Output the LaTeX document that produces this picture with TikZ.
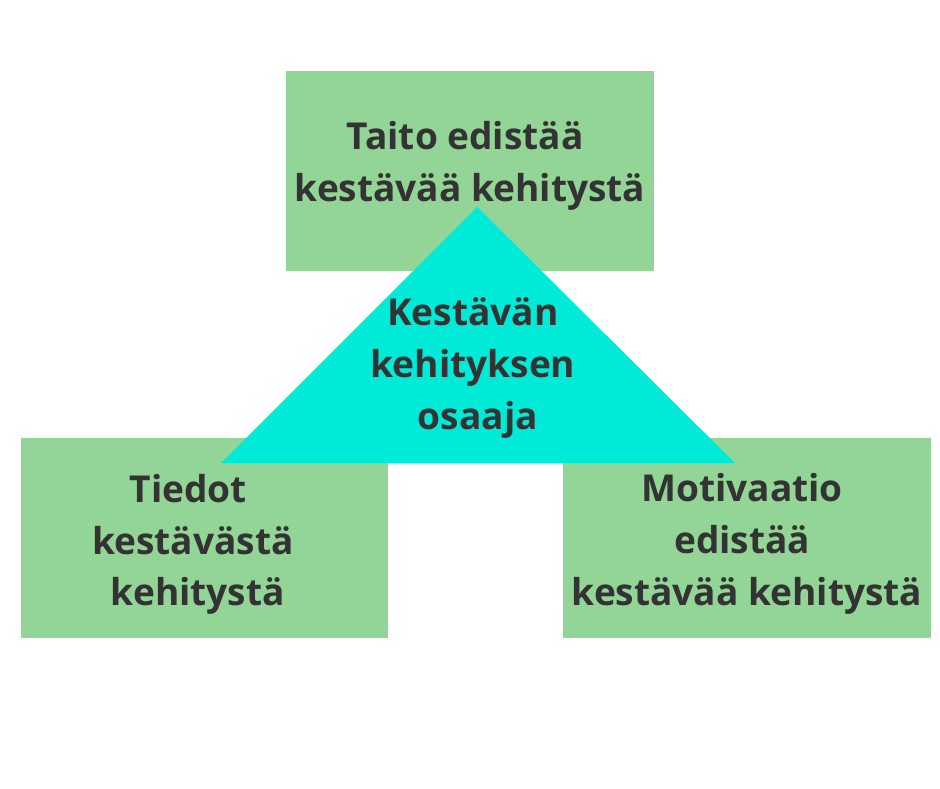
\documentclass[tikz,border=0pt]{standalone}
\usepackage{fontspec}
\setmainfont{Open Sans}
\usetikzlibrary{
    positioning
}
\definecolor{vihrea}{HTML}{93D596}
\definecolor{turkoosi}{HTML}{00EAD8}
\definecolor{harmaa}{HTML}{333333}
\newcommand{\tsp}{\hbox{\ }}
\tikzset{
    laatikko/.style={
        fill=vihrea,
        inner sep=0pt,
        minimum width=7.36cm,
        minimum height=4cm
    },
    teksti/.style={
        text=harmaa,
        font=\bfseries\fontsize{21.1}{29.5}\selectfont,
        align=center,
        inner sep=0pt
    }
}

\begin{document}
\begin{tikzpicture}[
    x=0.02cm,
    y=-0.02cm
]

    \fill[white] (0,0) rectangle (940,788);
    \useasboundingbox (0,0) rectangle (940,788);

    % Laatikot
    \node[laatikko] (taito)      at (470,171)   {};
    \node[laatikko] (tiedot)     at (204.5,538) {};
    \node[laatikko] (motivaatio) at (747,538)   {};

    % Kolmio
    \coordinate (vasen)  at (221,463);
    \coordinate (huippu) at (477,207);
    \coordinate (oikea)  at (735,463);
    \fill[turkoosi] (vasen) -- (huippu) -- (oikea) -- cycle;

    % Tekstit
    \node[teksti] (taitoteksti) at (470,165.5)
        {Taito edistää\tsp\\kestävää kehitystä};
    \node[teksti] (tiedotteksti) at (193,544.5)
        {Tiedot\tsp\\kestävästä\\\tsp kehitystä};
    \node[teksti] (motivaatioteksti) at (747,544)
        {Motivaatio\tsp\\edistää\tsp\\kestävää kehitystä};
    \node[teksti] (osaaja) at (473,368)
        {Kestävän\\kehityksen\\\tsp osaaja};

\end{tikzpicture}
\end{document}
